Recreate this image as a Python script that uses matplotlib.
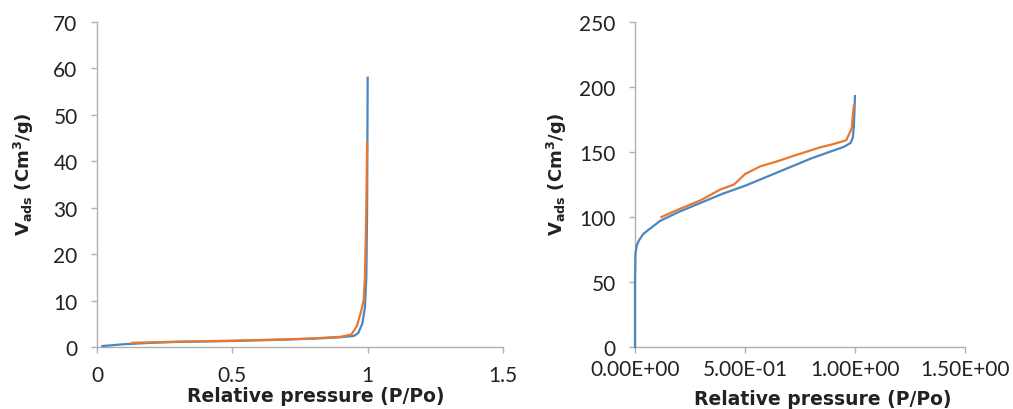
import matplotlib.pyplot as plt
from matplotlib.ticker import FormatStrFormatter

# Left panel: isotherm (adsorption = blue, desorption = orange)
left_p_ads = [0.02, 0.1, 0.2, 0.3, 0.4, 0.5, 0.6, 0.7, 0.8, 0.9, 0.95, 0.965, 0.98, 0.99, 0.995, 0.998, 1.0]
left_v_ads = [0.2, 0.6, 0.9, 1.1, 1.2, 1.3, 1.45, 1.6, 1.8, 2.1, 2.4, 3.0, 5.0, 8.5, 15, 30, 58]
left_p_des = [0.13, 0.2, 0.3, 0.4, 0.5, 0.6, 0.7, 0.8, 0.9, 0.94, 0.96, 0.975, 0.985, 0.99, 0.995, 0.998]
left_v_des = [0.9, 1.0, 1.15, 1.25, 1.35, 1.5, 1.65, 1.85, 2.2, 2.7, 4.5, 7.5, 10, 15, 30, 44]

# Right panel
right_p_ads = [0.0, 0.0, 0.002, 0.008, 0.018, 0.038, 0.068, 0.114, 0.2, 0.3, 0.4, 0.5, 0.6, 0.7,
               0.8, 0.9, 0.95, 0.98, 0.99, 0.995, 1.0]
right_v_ads = [0, 50, 72, 78, 82, 87, 91, 97, 104, 111, 118, 124, 131, 138,
               145, 151, 154, 157, 161, 170, 193]
right_p_des = [0.12, 0.2, 0.3, 0.386, 0.45, 0.5, 0.57, 0.65, 0.72, 0.84, 0.9, 0.96, 0.985, 0.99, 0.995]
right_v_des = [100, 106, 113, 121, 125, 133, 139, 143, 147, 153.5, 156, 159, 168, 178, 186]

left_xticks = [0, 0.5, 1, 1.5]
left_yticks = [0, 10, 20, 30, 40, 50, 60, 70]
right_xticks = [0, 0.5, 1.0, 1.5]
right_yticks = [0, 50, 100, 150, 200, 250]

blue = '#4a86c0'
orange = '#E8782F'
grey = '#b0b0b0'

xlabel = 'Relative pressure (P/Po)'
ylabel = r'V$_{\mathregular{ads}}$ (Cm$^{\mathregular{3}}$/g)'

fig = plt.figure(figsize=(10.13, 4.10), dpi=100)
ax1 = fig.add_axes([97 / 1013, 1 - 348 / 410, 406 / 1013, 325 / 410])
ax2 = fig.add_axes([635 / 1013, 1 - 348 / 410, 330 / 1013, 325 / 410])


def style(ax, xticks, yticks):
    for s in ['top', 'right']:
        ax.spines[s].set_visible(False)
    for s in ['left', 'bottom']:
        ax.spines[s].set_color(grey)
        ax.spines[s].set_linewidth(1.0)
    ax.set_xticks(xticks)
    ax.set_yticks(yticks)
    ax.set_xlim(xticks[0], xticks[-1])
    ax.set_ylim(yticks[0], yticks[-1])
    ax.tick_params(axis='both', colors=grey, length=4, width=1.0,
                   labelcolor='#222222', labelsize=15)
    ax.tick_params(axis='y', pad=10)
    ax.tick_params(axis='x', pad=9)


ax1.plot(left_p_ads, left_v_ads, color=blue, lw=1.6, zorder=3, clip_on=False)
ax1.plot(left_p_des, left_v_des, color=orange, lw=1.6, zorder=3, clip_on=False)
style(ax1, left_xticks, left_yticks)
ax1.xaxis.set_major_formatter(FormatStrFormatter('%g'))
for lbl in ax1.get_xticklabels() + ax1.get_yticklabels():
    lbl.set_family('Lato')

ax2.plot(right_p_ads, right_v_ads, color=blue, lw=1.6, zorder=3, clip_on=False)
ax2.plot(right_p_des, right_v_des, color=orange, lw=1.6, zorder=3, clip_on=False)
style(ax2, right_xticks, right_yticks)
ax2.set_xticklabels(['%.2E' % v for v in right_xticks], family='Lato')
for lbl in ax2.get_yticklabels():
    lbl.set_family('Lato')
ax2.tick_params(axis='x', pad=5)

for ax, xc, yc, yx in [(ax1, 0.54, -0.15, -0.18), (ax2, 0.57, -0.16, -0.236)]:
    ax.set_xlabel(xlabel, fontsize=13.5, fontweight='bold', color='#222222')
    ax.xaxis.set_label_coords(xc, yc)
    ax.xaxis.label.set_va('center')
    ax.set_ylabel(ylabel, fontsize=13, fontweight='bold', color='#222222')
    ax.yaxis.set_label_coords(yx, 0.535)
    ax.yaxis.label.set_va('center')

fig.savefig('out.png', dpi=100)
